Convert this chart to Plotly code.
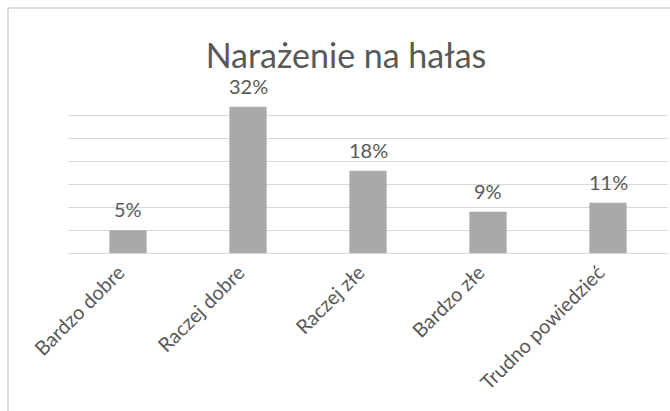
import plotly.graph_objects as go

categories = ["Bardzo dobre", "Raczej dobre", "Raczej złe", "Bardzo złe", "Trudno powiedzieć"]
values = [5, 32, 18, 9, 11]
value_labels = ["5%", "32%", "18%", "9%", "11%"]
title_text = "Narażenie na hałas"

FONT = "Lato"
TXT = "#595959"

fig = go.Figure()
fig.add_trace(go.Bar(
    x=categories, y=values,
    marker=dict(color="#a9a9a9", line=dict(width=0)),
    hoverinfo="skip",
))

for c, v, t in zip(categories, values, value_labels):
    fig.add_annotation(x=c, y=v, text=t, showarrow=False, yanchor="bottom",
                       yshift=7, font=dict(family=FONT, size=20, color=TXT))

# chart frame (light grey border)
fig.add_shape(type="line", xref="paper", yref="paper", x0=-0.1, x1=1.2, y0=1.531, y1=1.531,
              line=dict(color="#d0d0d0", width=1.5))
fig.add_shape(type="line", xref="paper", yref="paper", x0=-0.1, x1=-0.1, y0=1.531, y1=-1.2,
              line=dict(color="#d0d0d0", width=1.5))

fig.update_layout(
    width=670, height=411,
    margin=dict(l=68, r=2, t=93, b=158, autoexpand=False),
    paper_bgcolor="white", plot_bgcolor="white",
    bargap=0.69,
    showlegend=False,
    title=dict(text=title_text, x=346 / 670, xref="container", xanchor="center",
               y=1 - 56 / 411, yref="container", yanchor="middle",
               font=dict(family=FONT, size=34, color=TXT)),
    xaxis=dict(tickangle=-45, tickfont=dict(family=FONT, size=20, color=TXT),
               ticklabelshift=-9, ticklabelstandoff=3,
               showline=False, ticks="", showgrid=False, automargin=False),
    yaxis=dict(range=[0, 35], dtick=5, showticklabels=False, showgrid=True,
               gridcolor="#d9d9d9", gridwidth=1, zeroline=True, zerolinecolor="#d9d9d9",
               zerolinewidth=1, ticks="", automargin=False),
)

fig.write_html("out.html", config={"displayModeBar": False},
               post_script="document.body.style.margin='0';document.body.style.overflow='hidden';")
